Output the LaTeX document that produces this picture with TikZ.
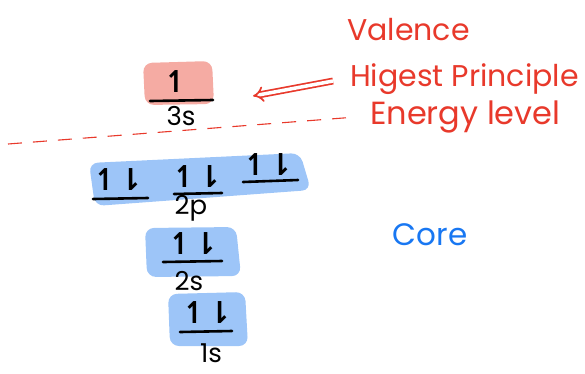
\documentclass[tikz,border=0pt]{standalone}
\usepackage{fontspec}
\setmainfont{Poppins}
\newfontfamily\arrowfont{DejaVu Sans}[BoldFont={DejaVu Sans Bold}]
\usetikzlibrary{arrows.meta}
\definecolor{redink}{HTML}{E8392B}
\definecolor{pinkhl}{HTML}{F5ABA3}
\definecolor{bluehl}{HTML}{9DC5F8}
\definecolor{coreblue}{HTML}{1877F2}
\tikzset{
  hlbox/.style={rounded corners=9pt},
  spins/.style={font=\arrowfont\bfseries\fontsize{30}{32}\selectfont, inner sep=0pt, text=black},
  baseline/.style={line width=2.6pt, line cap=round},
  sublabel/.style={font=\fontsize{26}{28}\selectfont, inner sep=0pt, text=black},
  redtext/.style={font=\fontsize{30}{32}\selectfont, text=redink, inner sep=0pt, anchor=west},
}
\begin{document}
\begin{tikzpicture}[x=1pt,y=-1pt]
\useasboundingbox (0,0) rectangle (585,373);
% highlights
\fill[pinkhl, hlbox] (143,63) -- (212,61) -- (214,104) -- (145,105) -- cycle;
\fill[bluehl, hlbox] (89,163) -- (300,153) -- (311,190) -- (95,206) -- cycle;
\fill[bluehl, hlbox] (145,228) -- (236,227) -- (241,276) -- (147,277) -- cycle;
\fill[bluehl, hlbox] (168,294) -- (245,292) -- (248,346) -- (170,346) -- cycle;
% 3s
\node[spins] (a3s) at (176,82) {↿};
\coordinate (l3sa) at (150,101); \coordinate (l3sb) at (213,100);
\draw[baseline] (l3sa) -- (l3sb);
\node[sublabel] (t3s) at (181,116) {3s};
% 2p
\node[spins] (a2p1) at (118,180) {↿⇂};
\coordinate (l2p1a) at (93,199); \coordinate (l2p1b) at (148,198);
\draw[baseline] (l2p1a) -- (l2p1b);
\node[spins] (a2p2) at (197,177) {↿⇂};
\coordinate (l2p2a) at (174,194); \coordinate (l2p2b) at (222,193);
\draw[baseline] (l2p2a) -- (l2p2b);
\node[spins] (a2p3) at (268,165) {↿⇂};
\coordinate (l2p3a) at (243,182); \coordinate (l2p3b) at (298,180);
\draw[baseline] (l2p3a) -- (l2p3b);
\node[sublabel] (t2p) at (191,208) {2p};
% 2s
\node[spins] (a2s) at (193,244) {↿⇂};
\coordinate (l2sa) at (163,262); \coordinate (l2sb) at (222,261);
\draw[baseline] (l2sa) -- (l2sb);
\node[sublabel] (t2s) at (189,281) {2s};
% 1s
\node[spins] (a1s) at (207,313) {↿⇂};
\coordinate (l1sa) at (180,332); \coordinate (l1sb) at (232,331);
\draw[baseline] (l1sa) -- (l1sb);
\node[sublabel] (t1s) at (211,353) {1s};
% dashed separator
\coordinate (d1) at (8,144); \coordinate (d2) at (356,117);
\draw[redink, line width=1.1pt, dash pattern=on 14pt off 11pt] (d1) -- (d2);
% red labels
\node[redtext] (val) at (347,30) {Valence};
\node[redtext, font=\fontsize{30}{32}\selectfont] (hig) at (350,79) {Higest Principle};
\node[redtext, font=\fontsize{32}{34}\selectfont] (ene) at (370,117) {Energy level};
\coordinate (arrtail) at (333,81);
\coordinate (arrtip) at (253,96);
\draw[redink, line width=1.7pt, double, double distance=3.5pt, -{Implies[length=9pt]}] (arrtail) -- (arrtip);
% core
\node[font=\fontsize{31}{33}\selectfont, text=coreblue, inner sep=0pt] (core) at (430,235) {Core};
\end{tikzpicture}
\end{document}
